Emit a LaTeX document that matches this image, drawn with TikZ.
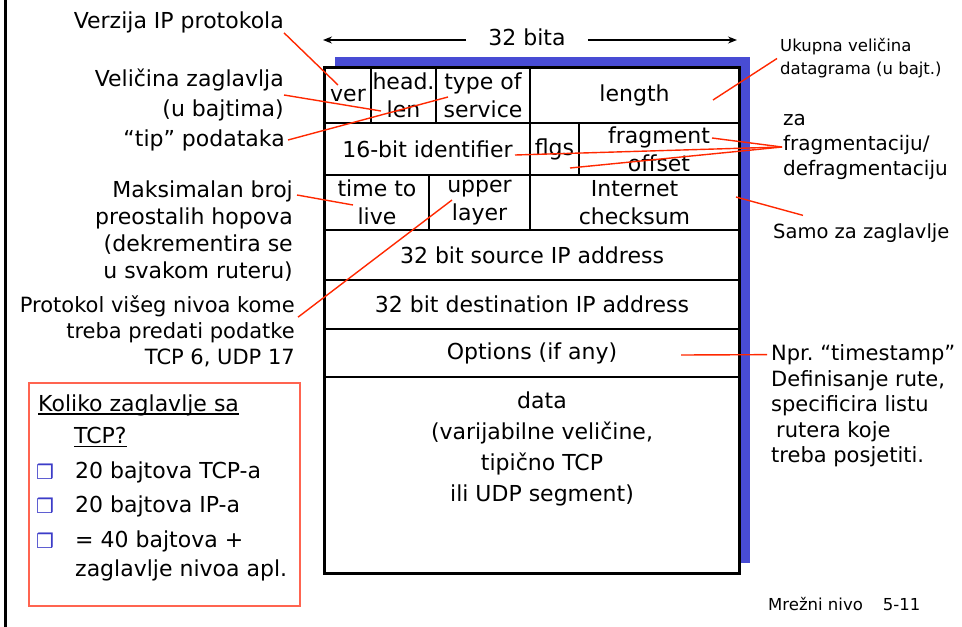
\documentclass[tikz,border=0pt]{standalone}
\usepackage{fontspec}
\setmainfont{DejaVu Sans}
\usetikzlibrary{arrows.meta}
\definecolor{shadowblue}{RGB}{72,76,212}
\definecolor{pointred}{RGB}{255,40,0}
\definecolor{boxred}{RGB}{255,100,80}
\definecolor{bulletblue}{RGB}{60,60,200}
\newcommand{\bigtext}{\fontsize{22}{28}\selectfont}
\newlength{\ulwd}
\newcommand{\undertext}[1]{\settowidth{\ulwd}{#1}\rlap{\rule[-3.5pt]{\ulwd}{1.4pt}}#1}
\frenchspacing

\begin{document}
\begin{tikzpicture}[x=1pt,y=-1pt,>={Stealth[length=9pt,width=7pt]},field node/.style={draw,line width=1.6pt,fill=white,inner sep=0pt,align=center,font=\bigtext},note node/.style={inner sep=0pt,font=\bigtext},pointer/.style={draw=pointred,line width=1.4pt},bullet node/.style={inner sep=0pt,text=bulletblue,font=\fontsize{20}{20}\selectfont}]
    \useasboundingbox (0,0) rectangle (962,627);
    \draw[line width=3pt] (5,0) -- (5,627);

    % datagram
    \fill[shadowblue] (335,57) rectangle (750,563);
    \node[field node,minimum width=46,minimum height=55] (ver) at (348,95.5) {ver};
    \node[field node,minimum width=65,minimum height=55] (hlen) at (403.5,95.5) {head.\\len};
    \node[field node,minimum width=94,minimum height=55] (tos) at (483,95.5) {type of\\service};
    \node[field node,minimum width=209,minimum height=55] (len) at (634.5,95.5) {length};
    \node[field node,minimum width=205,minimum height=52] (ident) at (427.5,149) {16-bit identifier};
    \node[field node,minimum width=49,minimum height=52] (flgs) at (554.5,149) {flgs};
    \node[field node,minimum width=160,minimum height=52] (frag) at (659,149) {fragment\\offset};
    \node[field node,minimum width=104,minimum height=55] (ttl) at (377,202.5) {time to\\live};
    \node[field node,minimum width=101,minimum height=55] (upper) at (479.5,202.5) {upper\\layer};
    \node[field node,minimum width=209,minimum height=55] (csum) at (634.5,202.5) {Internet\\checksum};
    \node[field node,minimum width=414,minimum height=50] (src) at (532,255) {32 bit source IP address};
    \node[field node,minimum width=414,minimum height=49] (dst) at (532,304.5) {32 bit destination IP address};
    \node[field node,minimum width=414,minimum height=48] (opts) at (532,353) {Options (if any)};
    \node[field node,minimum width=414,minimum height=196] (data) at (532,475) {};
    \node[note node,align=center,font=\fontsize{22}{31}\selectfont] (datatxt) at (542,449) {data\\(varijabilne veličine,\\tipično TCP\\ili UDP segment)};
    \draw[line width=2.2pt] (ver.north west) rectangle (data.south east);

    % width
    \node[note node,inner xsep=22pt] (bita) at (527,37) {32 bita};
    \coordinate (wl) at (323,40);
    \coordinate (wr) at (737,40);
    \draw[->,line width=1.4pt] (bita.west |- wl) -- (wl);
    \draw[->,line width=1.4pt] (bita.east |- wr) -- (wr);

    % notes on the left
    \node[note node,anchor=east] (verzija) at (284,22) {Verzija IP protokola};
    \node[note node,anchor=east,align=right,font=\fontsize{22}{30}\selectfont] (velicina) at (284,95) {Veličina zaglavlja\\(u bajtima)};
    \node[note node,anchor=east] (tip) at (285,140) {“tip” podataka};
    \node[note node,anchor=east,align=right,font=\fontsize{22}{27}\selectfont] (maks) at (293,231.5) {Maksimalan broj\\preostalih hopova\\(dekrementira se\\u svakom ruteru)};
    \node[note node,anchor=east,align=right,font=\fontsize{21}{26}\selectfont] (protokol) at (295,331) {Protokol višeg nivoa kome\\treba predati podatke\\TCP 6, UDP 17};

    % notes on the right
    \node[note node,anchor=west,align=left,font=\fontsize{16.5}{23}\selectfont] (ukupna) at (780,58.5) {Ukupna veličina\\datagrama (u bajt.)};
    \node[note node,anchor=west,align=left,font=\fontsize{20}{25}\selectfont] (zafrag) at (783,147) {za\\fragmentaciju/\\defragmentaciju};
    \node[note node,anchor=west,font=\fontsize{19.5}{24}\selectfont] (samo) at (773,233) {Samo za zaglavlje};
    \node[note node,anchor=west,align=left,font=\fontsize{21}{25.5}\selectfont] (npr) at (771,406) {Npr. “timestamp”\\Definisanje rute,\\specificira listu\\\hspace*{5pt}rutera koje\\treba posjetiti.};
    \node[note node,anchor=west,font=\fontsize{16.5}{20}\selectfont] (footer) at (768,604) {Mrežni nivo\hspace{20pt}5-11};

    % box
    \node[draw=boxred,line width=1.2pt,fill=white,minimum width=271,minimum height=223,inner sep=0pt] (koliko) at (164.5,494.5) {};
    \node[note node,anchor=west] (kol1) at (38,405) {\undertext{Koliko zaglavlje sa}};
    \node[note node,anchor=west] (kol2) at (74,437) {\undertext{TCP?}};
    \node[bullet node] (b1) at (45,472) {❒};
    \node[bullet node] (b2) at (45,506) {❒};
    \node[bullet node] (b3) at (45,541) {❒};
    \node[note node,anchor=west] (i1) at (75,472) {20 bajtova TCP-a};
    \node[note node,anchor=west] (i2) at (75,506) {20 bajtova IP-a};
    \node[note node,anchor=west,align=left,font=\fontsize{22}{29}\selectfont] (i3) at (75,555.5) {= 40 bajtova +\\zaglavlje nivoa apl.};

    % pointers
    \coordinate (pVer) at (338,85);
    \coordinate (pHlen) at (381,111);
    \coordinate (pTos) at (448,97);
    \coordinate (pLen) at (713,100);
    \coordinate (pIdent) at (515,155);
    \coordinate (pFlgs) at (570,168);
    \coordinate (pFrag) at (712,138);
    \coordinate (pTtl) at (353,205);
    \coordinate (pUpper) at (452,200);
    \coordinate (pCsum) at (736,197);
    \coordinate (pOpt) at (681,355);
    \path[pointer]
        (verzija.south east) edge (pVer)
        (velicina.east) edge (pHlen)
        ([xshift=3]tip.east) edge (pTos)
        ([shift={(4,14)}]maks.north east) edge (pTtl)
        ([shift={(3,22)}]protokol.north east) edge (pUpper)
        ([xshift=-3]ukupna.west) edge (pLen)
        ([xshift=-1]zafrag.west) edge (pIdent)
        ([xshift=-1]zafrag.west) edge (pFlgs)
        ([xshift=-1]zafrag.west) edge (pFrag)
        ([shift={(30,-8)}]samo.north west) edge (pCsum)
        ([shift={(-4,10)}]npr.north west) edge (pOpt);
\end{tikzpicture}
\end{document}
